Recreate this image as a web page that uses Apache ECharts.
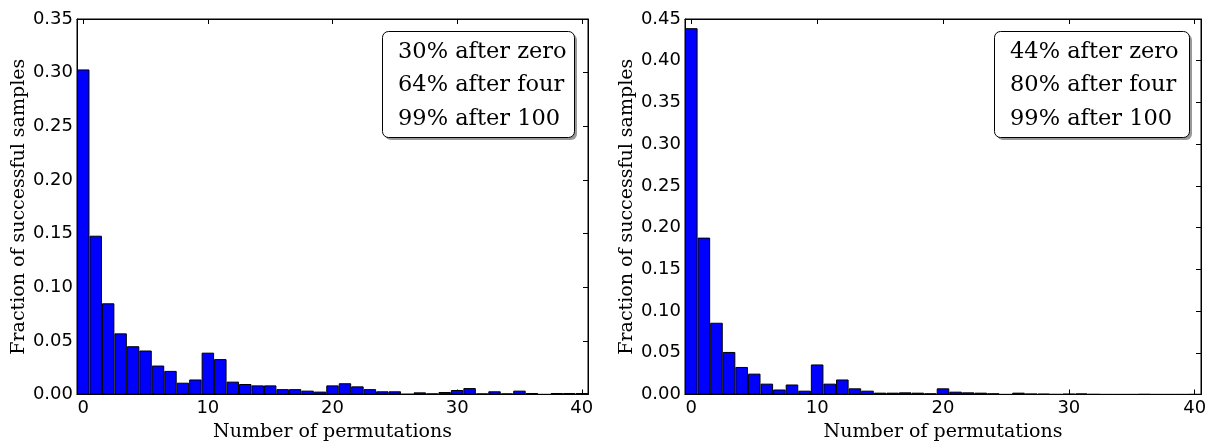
<!DOCTYPE html>
<html><head><meta charset="utf-8">
<script src="https://cdn.jsdelivr.net/npm/echarts@6/dist/echarts.min.js"></script>
<style>html,body{margin:0;padding:0;background:#fff}#c{width:1214px;height:442px}</style>
</head><body><div id="c"></div>
<script>
const permutations = ['0','1','2','3','4','5','6','7','8','9','10','11','12','13','14','15','16','17','18','19','20',
  '21','22','23','24','25','26','27','28','29','30','31','32','33','34','35','36','37','38','39','40'];
const leftFractions = [0.303, 0.148, 0.085, 0.057, 0.045, 0.041, 0.027, 0.022, 0.011, 0.014,
  0.039, 0.033, 0.012, 0.0098, 0.0085, 0.0085, 0.005, 0.005, 0.0036, 0.0027,
  0.0085, 0.0105, 0.0076, 0.005, 0.003, 0.003, 0.0005, 0.002, 0.001, 0.0023,
  0.0042, 0.006, 0.001, 0.003, 0.001, 0.0036, 0.0014, 0.0002, 0.0014, 0.0014, 0.0014];
const rightFractions = [0.439, 0.188, 0.086, 0.051, 0.033, 0.025, 0.013, 0.006, 0.012, 0.0046,
  0.036, 0.013, 0.018, 0.0074, 0.0046, 0.0022, 0.0022, 0.0026, 0.0022, 0.0014,
  0.0074, 0.0034, 0.0026, 0.0022, 0.0014, 0.0002, 0.0022, 0.001, 0.0008, 0.0003,
  0.0008, 0.0012, 0.0004, 0.0002, 0.0002, 0.0002, 0.0004, 0.0002, 0.0002, 0.0002, 0.0003];
const leftNotes = ['30% after zero', '64% after four', '99% after 100'];
const rightNotes = ['44% after zero', '80% after four', '99% after 100'];
const xTitle = 'Number of permutations';
const yTitle = 'Fraction of successful samples';
const yMaxes = [0.35, 0.45];
const yStep = 0.05;

const chart = echarts.init(document.getElementById('c'), null, {renderer: 'canvas'});
const SANS = 'DejaVu Sans', SERIF = 'DejaVu Serif';
const panels = [
  {grid: {left: 77, right: 626, top: 19, bottom: 47.5}, data: leftFractions, notes: leftNotes, box: [382, 31, 192, 106]},
  {grid: {left: 685, right: 13, top: 19, bottom: 47.5}, data: rightFractions, notes: rightNotes, box: [994, 31, 195, 106]}
];
const grid = [], xAxis = [], yAxis = [], series = [], graphic = [];
const line = {show: true, onZero: false, lineStyle: {color: '#000', width: 1}};
panels.forEach((p, g) => {
  grid.push(Object.assign({containLabel: false, outerBoundsMode: 'none', show: true, borderColor: '#000', borderWidth: 1, backgroundColor: 'transparent'}, p.grid));
  const tick = {show: true, inside: true, length: 5, interval: 9, alignWithLabel: true, lineStyle: {color: '#000', width: 1}};
  xAxis.push({type: 'category', gridIndex: g, position: 'bottom', data: permutations, boundaryGap: true,
    axisLine: line, axisTick: tick,
    axisLabel: {interval: 9, margin: 5, color: '#000', fontFamily: SANS, fontSize: 18},
    name: xTitle, nameLocation: 'middle', nameGap: 28,
    nameTextStyle: {color: '#000', fontFamily: SERIF, fontSize: 19}});
  xAxis.push({type: 'category', gridIndex: g, position: 'top', data: permutations, boundaryGap: true,
    axisLine: line, axisTick: tick, axisLabel: {show: false}});
  const ytick = {show: true, inside: true, length: 5, lineStyle: {color: '#000', width: 1}};
  yAxis.push({type: 'value', gridIndex: g, position: 'left', min: 0, max: yMaxes[g], interval: yStep,
    splitLine: {show: false}, axisLine: line, axisTick: ytick,
    axisLabel: {margin: 4, color: '#000', fontFamily: SANS, fontSize: 18, formatter: v => v.toFixed(2)},
    name: yTitle, nameLocation: 'middle', nameGap: 47,
    nameTextStyle: {color: '#000', fontFamily: SERIF, fontSize: 19}});
  yAxis.push({type: 'value', gridIndex: g, position: 'right', min: 0, max: yMaxes[g], interval: yStep,
    splitLine: {show: false}, axisLine: line, axisTick: ytick, axisLabel: {show: false}});
  series.push({type: 'bar', xAxisIndex: 2 * g, yAxisIndex: 2 * g, data: p.data,
    barCategoryGap: '0%', barWidth: '100%',
    itemStyle: {color: '#0000ff', borderColor: '#000', borderWidth: 1}});
  const [bx, by, bw, bh] = p.box;
  graphic.push({type: 'rect', left: bx + 3, top: by + 3, z: 100,
    shape: {width: bw, height: bh, r: 6}, style: {fill: 'rgba(0,0,0,0.4)', stroke: null}});
  graphic.push({type: 'rect', left: bx, top: by, z: 101,
    shape: {width: bw, height: bh, r: 6}, style: {fill: '#fff', stroke: '#000', lineWidth: 1}});
  graphic.push({type: 'text', left: bx + 16, top: by + 4, z: 102,
    style: {text: p.notes.join('\n'), font: '22.5px "DejaVu Serif"', fill: '#000', lineHeight: 33.5}});
});
chart.setOption({animation: false, backgroundColor: '#fff', graphic, grid, xAxis, yAxis, series});
</script></body></html>
